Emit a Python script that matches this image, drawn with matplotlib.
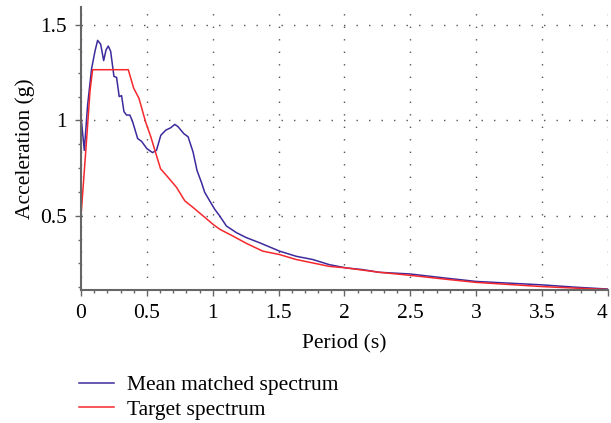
import matplotlib.pyplot as plt
from matplotlib.ticker import MultipleLocator

# Mean matched spectrum
mean_T = [0.0, 0.025, 0.05, 0.08, 0.106, 0.126, 0.149, 0.172, 0.19, 0.207, 0.225, 0.25, 0.27,
          0.29, 0.308, 0.326, 0.346, 0.371, 0.392, 0.43, 0.46, 0.50, 0.543, 0.573, 0.606,
          0.644, 0.68, 0.712, 0.737, 0.78, 0.813, 0.851, 0.881, 0.914, 0.939, 0.977, 1.015,
          1.053, 1.104, 1.18, 1.255, 1.356, 1.508, 1.634, 1.76, 1.886, 2.013, 2.139, 2.265,
          2.5, 2.75, 3.0, 3.25, 3.5, 3.75, 4.0]
mean_A = [1.02, 0.843, 1.08, 1.27, 1.363, 1.42, 1.40, 1.314, 1.37, 1.39, 1.363, 1.231, 1.226,
          1.125, 1.13, 1.046, 1.028, 1.028, 0.993, 0.905, 0.89, 0.852, 0.831, 0.843, 0.922,
          0.949, 0.961, 0.979, 0.967, 0.931, 0.914, 0.834, 0.737, 0.676, 0.623, 0.578, 0.534,
          0.499, 0.446, 0.411, 0.385, 0.358, 0.314, 0.287, 0.27, 0.243, 0.226, 0.217, 0.203,
          0.194, 0.174, 0.155, 0.146, 0.137, 0.125, 0.115]

# Target spectrum
target_T = [0.0, 0.043, 0.068, 0.088, 0.359, 0.40, 0.44, 0.49, 0.53, 0.573, 0.604, 0.649,
            0.725, 0.788, 0.851, 0.939, 1.002, 1.053, 1.154, 1.255, 1.38, 1.508, 1.634, 1.76,
            1.886, 2.013, 2.265, 2.5, 2.75, 3.0, 3.25, 3.5, 3.75, 4.0]
target_A = [0.499, 0.905, 1.152, 1.266, 1.266, 1.169, 1.116, 0.993, 0.914, 0.816, 0.746, 0.711,
            0.649, 0.578, 0.543, 0.492, 0.455, 0.429, 0.393, 0.355, 0.314, 0.296, 0.27, 0.252,
            0.234, 0.226, 0.203, 0.187, 0.168, 0.15, 0.139, 0.128, 0.12, 0.113]

plt.rcParams['font.family'] = ['Liberation Serif', 'DejaVu Serif']
FS = 15.5

fig = plt.figure(figsize=(6.11, 4.23), dpi=100)
ax = fig.add_axes([0.1326, 0.3144, 0.862, 0.669])

l1, = ax.plot(mean_T, mean_A, color='#3d2a9c', lw=1.1, label='Mean matched spectrum')
l2, = ax.plot(target_T, target_A, color='#f5282d', lw=1.1, label='Target spectrum')

ax.set_xlim(0, 4)
ax.set_ylim(0.11, 1.595)
ax.xaxis.set_minor_locator(MultipleLocator(0.1))
ax.yaxis.set_minor_locator(MultipleLocator(0.125))
ax.set_xticks([0, 0.5, 1, 1.5, 2, 2.5, 3, 3.5, 4])
ax.set_xticklabels(['0', '0.5', '1', '1.5', '2', '2.5', '3', '3.5', '4'])
ax.set_yticks([0.5, 1, 1.5])
ax.set_yticklabels(['0.5', '1', '1.5'])
# last label sits at the figure edge: keep it inside
ax.get_xticklabels()[-1].set_horizontalalignment('right')

ax.grid(True, which='major', color='#555555', linestyle=(0, (1, 8)), linewidth=1.0)
for s in ['top', 'right']:
    ax.spines[s].set_visible(False)
for s in ['left', 'bottom']:
    ax.spines[s].set_color('#666666')
    ax.spines[s].set_linewidth(1.5)
ax.tick_params(which='major', length=4, width=1, color='#666666', labelsize=FS, pad=6)
ax.tick_params(which='minor', length=2.5, width=1, color='#666666')

ax.set_xlabel('Period (s)', fontsize=FS, labelpad=8)
ax.set_ylabel('Acceleration (g)', fontsize=FS, labelpad=4)

fig.legend(handles=[l1, l2], loc='upper left', bbox_to_anchor=(0.129, 0.1125),
           frameon=False, fontsize=FS, handlelength=1.65, handletextpad=0.6,
           labelspacing=0.2, borderpad=0, borderaxespad=0)

fig.savefig('out.png', dpi=100)
